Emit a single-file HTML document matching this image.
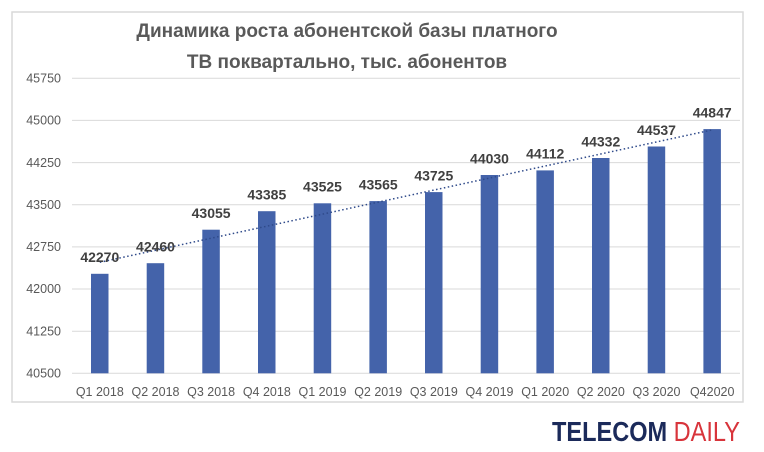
<!DOCTYPE html><html><head><meta charset="utf-8"><style>body{margin:0;background:#fff}svg{display:block}</style></head><body>
<svg width="764" height="452" xmlns="http://www.w3.org/2000/svg" font-family="Liberation Sans, DejaVu Sans, sans-serif">
<rect x="0" y="0" width="764" height="452" fill="#fff"/>
<rect x="12" y="12" width="731" height="390" fill="none" stroke="#d9d9d9" stroke-width="1.5"/>
<text x="347" y="37" text-anchor="middle" font-size="19" font-weight="bold" fill="#595959">Динамика роста абонентской базы платного</text>
<text x="347" y="68" text-anchor="middle" font-size="19" font-weight="bold" fill="#595959">ТВ поквартально, тыс. абонентов</text>
<g stroke="#d9d9d9" stroke-width="1">
<line x1="72" x2="740" y1="78.3" y2="78.3"/><line x1="72" x2="740" y1="120.4" y2="120.4"/><line x1="72" x2="740" y1="162.6" y2="162.6"/><line x1="72" x2="740" y1="204.7" y2="204.7"/><line x1="72" x2="740" y1="246.9" y2="246.9"/><line x1="72" x2="740" y1="289" y2="289"/><line x1="72" x2="740" y1="331.2" y2="331.2"/><line x1="72" x2="740" y1="373.3" y2="373.3"/>
</g>
<g font-size="12.5" fill="#595959" text-anchor="end">
<text x="61" y="82.5">45750</text><text x="61" y="124.6">45000</text><text x="61" y="166.8">44250</text><text x="61" y="208.9">43500</text><text x="61" y="251">42750</text><text x="61" y="293.2">42000</text><text x="61" y="335.4">41250</text><text x="61" y="377.5">40500</text>
</g>
<g fill="#4463aa">
<rect x="91" y="273.8" width="17.5" height="99.5"/><rect x="146.7" y="263.2" width="17.5" height="110.1"/><rect x="202.3" y="229.7" width="17.5" height="143.6"/><rect x="258" y="211.2" width="17.5" height="162.1"/><rect x="313.7" y="203.3" width="17.5" height="170"/><rect x="369.4" y="201.1" width="17.5" height="172.2"/><rect x="425" y="192.1" width="17.5" height="181.2"/><rect x="480.7" y="175" width="17.5" height="198.3"/><rect x="536.4" y="170.4" width="17.5" height="202.9"/><rect x="592" y="158" width="17.5" height="215.3"/><rect x="647.7" y="146.5" width="17.5" height="226.8"/><rect x="703.4" y="129.1" width="17.5" height="244.2"/>
</g>
<line x1="99.8" y1="262.3" x2="712.2" y2="129.9" stroke="#2f4a8a" stroke-width="1.5" stroke-dasharray="1.5 2.5"/>
<g font-size="14" font-weight="bold" fill="#404040" text-anchor="middle">
<text x="99.8" y="262">42270</text><text x="155.5" y="251.5">42460</text><text x="211.1" y="218">43055</text><text x="266.8" y="199.5">43385</text><text x="322.5" y="191.5">43525</text><text x="378.2" y="189.5">43565</text><text x="433.8" y="180.5">43725</text><text x="489.5" y="163.5">44030</text><text x="545.2" y="158.5">44112</text><text x="600.8" y="146.5">44332</text><text x="656.5" y="135">44537</text><text x="712.2" y="117.5">44847</text>
</g>
<g font-size="12.5" fill="#595959" text-anchor="middle">
<text x="99.8" y="396">Q1 2018</text><text x="155.5" y="396">Q2 2018</text><text x="211.1" y="396">Q3 2018</text><text x="266.8" y="396">Q4 2018</text><text x="322.5" y="396">Q1 2019</text><text x="378.2" y="396">Q2 2019</text><text x="433.8" y="396">Q3 2019</text><text x="489.5" y="396">Q4 2019</text><text x="545.2" y="396">Q1 2020</text><text x="600.8" y="396">Q2 2020</text><text x="656.5" y="396">Q3 2020</text><text x="712.2" y="396">Q42020</text>
</g>
<text x="552" y="441" font-size="28" textLength="188" lengthAdjust="spacingAndGlyphs"><tspan font-weight="bold" fill="#1b2a5a">TELECOM</tspan><tspan fill="#d8343b"> DAILY</tspan></text>
</svg>
</body></html>
